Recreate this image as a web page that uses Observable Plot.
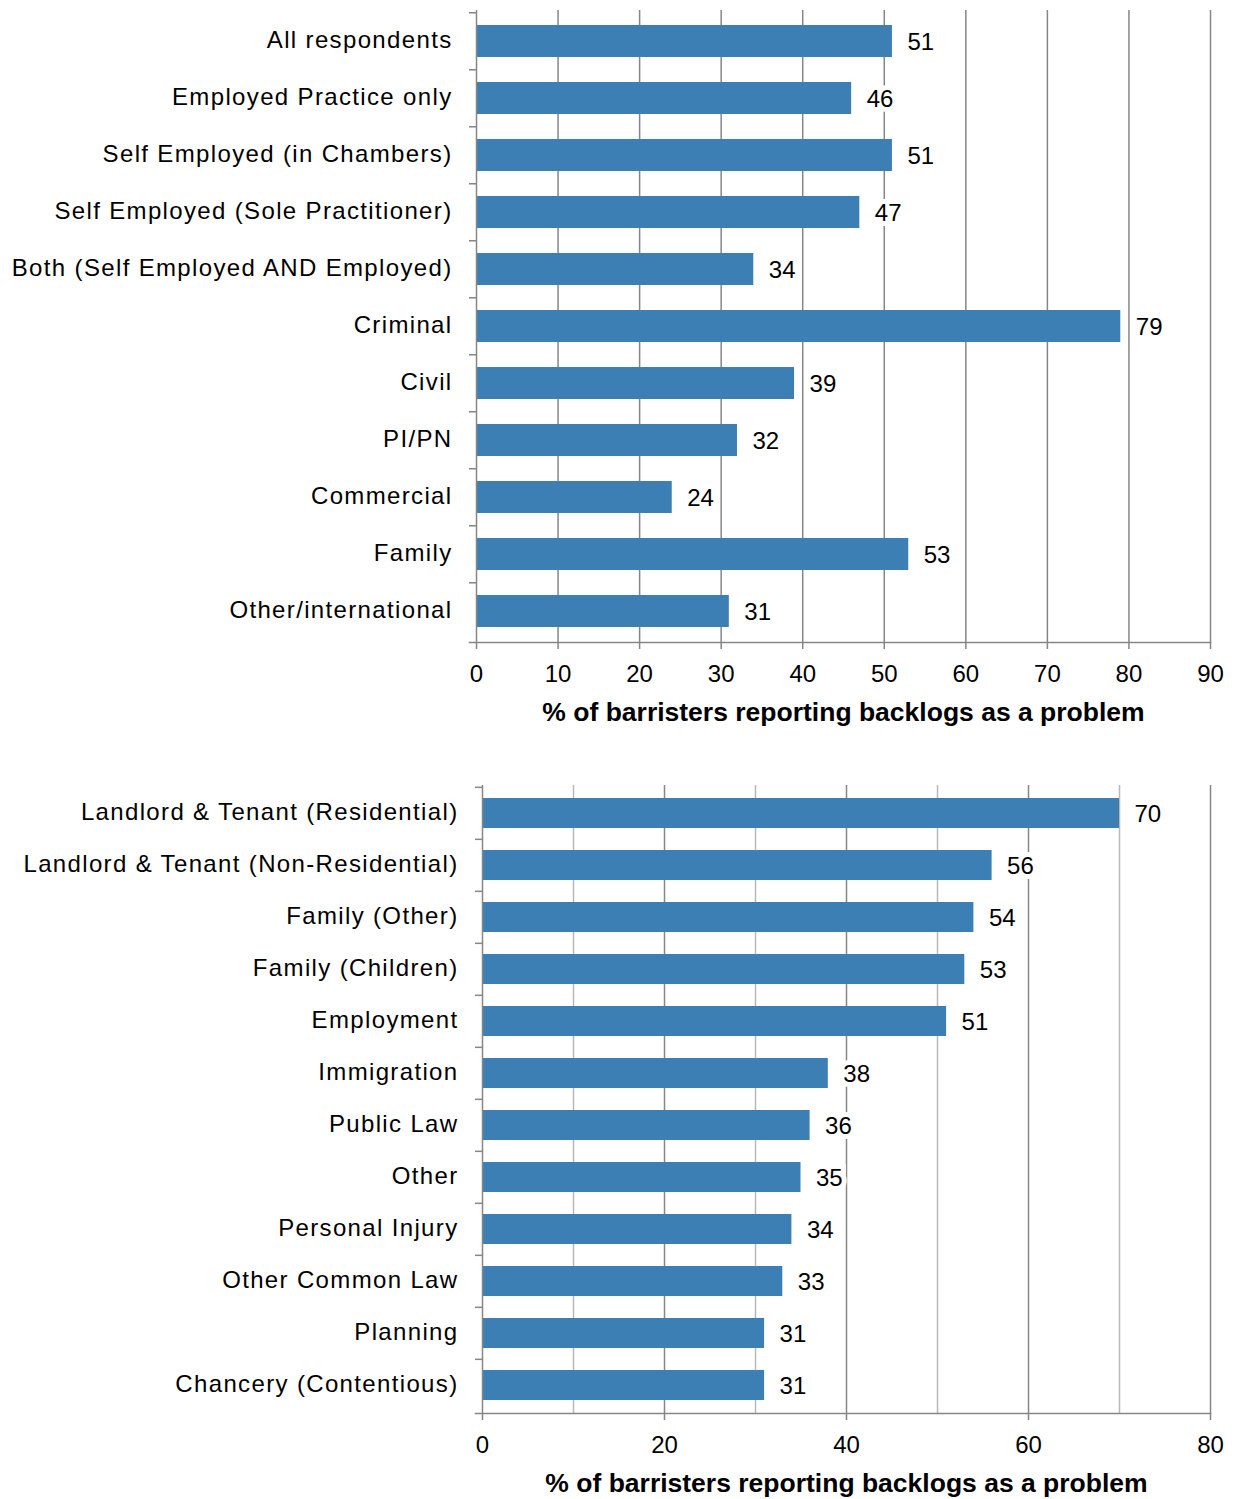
<!DOCTYPE html>
<html>
<head>
<meta charset="utf-8">
<script src="https://cdn.jsdelivr.net/npm/d3@7"></script>
<script src="https://cdn.jsdelivr.net/npm/@observablehq/plot@0.6"></script>
<style>
  html, body { margin: 0; padding: 0; background: #fff; }
  #chart { width: 1236px; }
  #chart svg { display: block; }
  #chart g[aria-label="y-axis tick label"] text { letter-spacing: 1.35px; }
</style>
</head>
<body>
<div id="chart"></div>
<script>
// ---- Data ----
const topCategories = [
  "All respondents",
  "Employed Practice only",
  "Self Employed (in Chambers)",
  "Self Employed (Sole Practitioner)",
  "Both (Self Employed AND Employed)",
  "Criminal",
  "Civil",
  "PI/PN",
  "Commercial",
  "Family",
  "Other/international"
];
const topValues = [51, 46, 51, 47, 34, 79, 39, 32, 24, 53, 31];
const topTicks = [0, 10, 20, 30, 40, 50, 60, 70, 80, 90];

const bottomCategories = [
  "Landlord & Tenant (Residential)",
  "Landlord & Tenant (Non-Residential)",
  "Family (Other)",
  "Family (Children)",
  "Employment",
  "Immigration",
  "Public Law",
  "Other",
  "Personal Injury",
  "Other Common Law",
  "Planning",
  "Chancery (Contentious)"
];
const bottomValues = [70, 56, 54, 53, 51, 38, 36, 35, 34, 33, 31, 31];
const bottomTicks = [0, 20, 40, 60, 80];
const bottomGridMajor = [20, 40, 60, 80];
const bottomGridMinor = [10, 30, 50, 70];

const axisTitle = "% of barristers reporting backlogs as a problem";

// ---- Styles ----
const BAR = "#3b7fb5";
const GRID = "#868686";
const GRID_LIGHT = "#b9b9b9";
const FONT = "'Liberation Sans', Arial, Helvetica, sans-serif";

function makeChart({cats, vals, ticks, gridMajor, gridMinor, domain, height, mt, mb, ml, mr, padding}) {
  const data = cats.map((c, i) => ({cat: c, value: vals[i]}));
  const step = (height - mt - mb) / cats.length;
  const marks = [];
  if (gridMinor) marks.push(Plot.ruleX(gridMinor, {stroke: GRID_LIGHT, strokeWidth: 1.5}));
  marks.push(Plot.ruleX(gridMajor, {stroke: GRID, strokeWidth: 1.5}));
  marks.push(Plot.barX(data, {x: "value", y: "cat", fill: BAR}));
  marks.push(Plot.text(data, {
    x: "value", y: "cat", text: d => String(d.value),
    dx: 15, textAnchor: "start", fill: "#000",
    stroke: "white", strokeWidth: 10, strokeLinejoin: "miter",
    fontSize: 24, dy: 1
  }));
  // y axis line
  marks.push(Plot.ruleX([0], {stroke: GRID, strokeWidth: 1.5}));
  // x axis line (extends left to meet the category tick)
  marks.push(Plot.frame({anchor: "bottom", stroke: GRID, strokeWidth: 1.5, insetLeft: -7}));
  // y category labels
  marks.push(Plot.axisY({tickSize: 0, tickPadding: 24, fontSize: 24, label: null, dy: -1}));
  // y boundary ticks (between categories)
  marks.push(Plot.axisY({tickSize: 7, text: null, dy: -step / 2, stroke: GRID, strokeWidth: 1.5, label: null}));
  // x axis ticks and labels
  marks.push(Plot.axisX(ticks, {tickSize: 7, tickPadding: 15, fontSize: 24, stroke: GRID, strokeWidth: 1.5, label: null}));
  // axis title
  marks.push(Plot.text([axisTitle], {frameAnchor: "bottom", dy: 78, fontWeight: "bold", fontSize: 26.5, fill: "#000"}));

  return Plot.plot({
    width: 1236,
    height,
    marginTop: mt,
    marginBottom: mb,
    marginLeft: ml,
    marginRight: mr,
    style: {fontFamily: FONT, fontSize: "24px", color: "#000", background: "#fff", overflow: "visible"},
    x: {domain, ticks},
    y: {domain: cats, paddingInner: padding, paddingOuter: padding / 2},
    marks
  });
}

const topChart = makeChart({
  cats: topCategories, vals: topValues, ticks: topTicks,
  gridMajor: topTicks.filter(t => t > 0), gridMinor: null,
  domain: [0, 90], height: 740, mt: 10, mb: 98, ml: 476, mr: 26, padding: 0.44
});
const bottomChart = makeChart({
  cats: bottomCategories, vals: bottomValues, ticks: bottomTicks,
  gridMajor: bottomGridMajor, gridMinor: bottomGridMinor,
  domain: [0, 80], height: 759, mt: 45, mb: 86, ml: 482, mr: 26, padding: 0.43
});
document.getElementById("chart").append(topChart, bottomChart);
</script>
</body>
</html>
